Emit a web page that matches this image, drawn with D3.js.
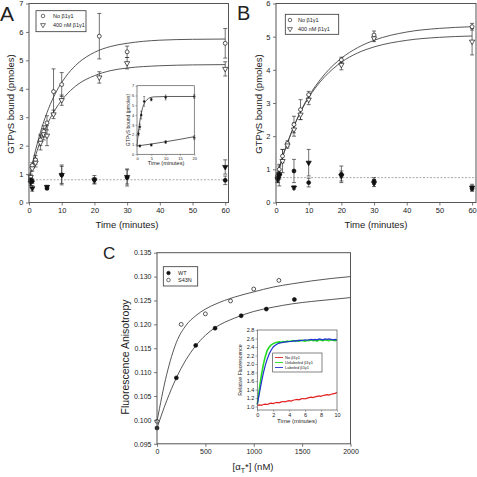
<!DOCTYPE html>
<html><head><meta charset="utf-8">
<script src="https://cdn.jsdelivr.net/npm/d3@7"></script>
<style>
body{margin:0;background:#fff}
svg{display:block}
text{font-family:"Liberation Sans",Arial,Helvetica,sans-serif;fill:#222}
</style>
</head><body>
<svg id="c" width="477" height="477"></svg>
<script>
// ---------- Panel A data ----------
const aOpenT      = [0.5, 1, 2, 3.5, 4.5, 5.5, 7.5, 10, 21.5, 30, 60];
const aNoBg       = [0.85, 1.3, 1.5, 2.2, 2.5, 2.8, 3.9, 4.15, 5.85, 5.3, 5.6];
const aNoBgErr    = [0.1, 0.1, 0.15, 0.2, 0.2, 0.25, 0.8, 0.42, 0.8, 0.2, 0.52];
const a400Bg      = [0.9, 1.2, 1.4, 2.1, 2.4, 2.35, 3.1, 3.6, 4.4, 4.9, 4.7];
const a400BgErr   = [0.1, 0.1, 0.15, 0.25, 0.2, 0.35, 0.15, 0.18, 0.2, 0.2, 0.25];
const aFilledT    = [0.5, 1, 5.5, 10, 20, 30, 60];
const aFilledNo   = [0.8, 0.75, 0.5, 0.97, 0.8, 0.88, 0.78];
const aFilledNoE  = [0.1, 0.08, 0.05, 0.35, 0.15, 0.3, 0.15];
const aFilled400  = [0.7, 0.5, 0.55, 0.97, 0.78, 0.9, 1.25];
const aFilled400E = [0.1, 0.1, 0.05, 0.3, 0.1, 0.25, 0.25];
const aBaseline   = 0.8;
const aCurveT     = [0, 1, 2, 3, 4, 5, 6, 8, 10, 12, 15, 20, 25, 30, 40, 50, 60];
const aCurveNo    = [0.8, 1.35, 1.84, 2.27, 2.66, 3.0, 3.31, 3.82, 4.22, 4.54, 4.9, 5.28, 5.49, 5.6, 5.71, 5.74, 5.75];
const aCurve400   = [0.8, 1.25, 1.65, 2.0, 2.32, 2.6, 2.85, 3.27, 3.6, 3.86, 4.16, 4.46, 4.64, 4.73, 4.81, 4.84, 4.85];
const aXTicks     = [0, 10, 20, 30, 40, 50, 60];
const aYTicks     = [0, 1, 2, 3, 4, 5, 6, 7];
const legendAB    = ["No \u03b21\u03b31", "400 nM \u03b21\u03b31"];

// Panel A inset
const aInT        = [0.5, 1, 1.5, 2.5, 5, 10, 20];
const aInNo       = [2.1, 2.8, 4.0, 5.4, 5.6, 5.8, 5.9];
const aInNoErr    = [0.2, 0.3, 0.4, 0.5, 0.15, 0.25, 0.2];
const aIn400T     = [1, 5, 10, 20];
const aIn400      = [0.85, 0.95, 1.25, 1.7];
const aIn400Err   = [0.1, 0.1, 0.15, 0.2];
const aInCurveT   = [0, 0.5, 1, 1.5, 2, 2.5, 3, 4, 5, 6, 8, 10, 15, 20];
const aInCurveNo  = [0.8, 2.3, 3.4, 4.2, 4.8, 5.15, 5.4, 5.7, 5.82, 5.86, 5.88, 5.9, 5.9, 5.9];
const aInLineT    = [0, 5, 10, 15, 20];
const aInLine400  = [0.85, 1.05, 1.28, 1.53, 1.8];
const aInXTicks   = [0, 5, 10, 15, 20];

// ---------- Panel B data ----------
const bOpenT      = [0.5, 1, 2, 3.5, 5.5, 7.5, 10, 20, 30, 60];
const bNoBg       = [0.8, 1.0, 1.4, 1.78, 2.35, 2.8, 3.25, 4.3, 5.05, 5.3];
const bNoBgErr    = [0.1, 0.15, 0.2, 0.08, 0.25, 0.3, 0.1, 0.08, 0.12, 0.1];
const b400Bg      = [0.7, 0.85, 1.25, 1.72, 2.2, 2.65, 3.1, 4.15, 4.95, 4.85];
const b400BgErr   = [0.1, 0.15, 0.35, 0.08, 0.2, 0.15, 0.15, 0.15, 0.1, 0.4];
const bFilledT    = [0.5, 1, 5.5, 10, 20, 30, 60];
const bFilledNo   = [0.75, 0.85, 0.95, 0.6, 0.85, 0.65, 0.42];
const bFilledNoE  = [0.1, 0.1, 0.35, 0.13, 0.25, 0.1, 0.08];
const bFilled400  = [0.7, 0.8, 0.45, 1.2, 0.8, 0.58, 0.45];
const bFilled400E = [0.1, 0.3, 0.05, 0.4, 0.15, 0.1, 0.1];
const bBaseline   = 0.75;
const bCurveT     = [0, 1, 2, 3, 4, 5, 6, 8, 10, 12, 15, 20, 25, 30, 40, 50, 60];
const bCurveNo    = [0.7, 1.04, 1.36, 1.66, 1.93, 2.18, 2.42, 2.84, 3.2, 3.5, 3.88, 4.35, 4.67, 4.89, 5.14, 5.25, 5.3];
const bCurve400   = [0.7, 1.05, 1.37, 1.66, 1.93, 2.18, 2.41, 2.82, 3.16, 3.45, 3.8, 4.23, 4.51, 4.69, 4.89, 4.98, 5.02];
const bYTicks     = [0, 1, 2, 3, 4, 5, 6];

// ---------- Panel C data ----------
const cWTx        = [0, 200, 400, 600, 870, 1130, 1420];
const cWT         = [0.0983, 0.1088, 0.1156, 0.1192, 0.1218, 0.1232, 0.1252];
const cS43Nx      = [0, 250, 500, 760, 1000, 1260];
const cS43N       = [0.0997, 0.1200, 0.1222, 0.1249, 0.1274, 0.1292];
const cCurveX     = [0, 100, 200, 300, 400, 500, 600, 800, 1000, 1200, 1400, 1600, 1800, 2000];
const cCurveWT    = [0.0983, 0.1040, 0.1088, 0.1126, 0.1155, 0.1177, 0.1193, 0.1213, 0.1227, 0.1236, 0.1243, 0.1248, 0.1252, 0.1256];
const cCurveS43N  = [0.0997, 0.1095, 0.1162, 0.1198, 0.1218, 0.1232, 0.1242, 0.1257, 0.1268, 0.1278, 0.1285, 0.1291, 0.1296, 0.1300];
const cXTicks     = [0, 500, 1000, 1500, 2000];
const cYTicks     = [0.095, 0.100, 0.105, 0.110, 0.115, 0.120, 0.125, 0.130, 0.135];
const cLegend     = ["WT", "S43N"];

// Panel C inset (relative fluorescence traces)
const ciT = [0,0.25,0.5,0.75,1,1.25,1.5,1.75,2,2.25,2.5,2.75,3,3.25,3.5,3.75,4,4.25,4.5,4.75,5,5.25,5.5,5.75,6,6.25,6.5,6.75,7,7.25,7.5,7.75,8,8.25,8.5,8.75,9,9.25,9.5,9.75,10];
const ciNo = [1.03,1.04,1.03,1.05,1.06,1.05,1.07,1.08,1.07,1.09,1.10,1.09,1.11,1.12,1.11,1.13,1.14,1.13,1.15,1.16,1.17,1.16,1.18,1.19,1.18,1.20,1.21,1.22,1.21,1.23,1.24,1.25,1.24,1.26,1.27,1.28,1.27,1.29,1.30,1.31,1.33];
const ciUnlab = [1.05,1.40,1.72,1.98,2.18,2.32,2.40,2.45,2.48,2.50,2.51,2.52,2.51,2.53,2.52,2.54,2.53,2.54,2.55,2.53,2.55,2.54,2.56,2.55,2.54,2.56,2.55,2.57,2.55,2.56,2.54,2.57,2.56,2.55,2.57,2.56,2.55,2.57,2.56,2.55,2.56];
const ciLab = [1.05,1.30,1.55,1.78,1.97,2.12,2.24,2.33,2.40,2.44,2.47,2.49,2.50,2.51,2.52,2.52,2.53,2.53,2.54,2.55,2.54,2.56,2.55,2.56,2.57,2.56,2.57,2.58,2.57,2.58,2.57,2.59,2.58,2.57,2.59,2.58,2.59,2.58,2.57,2.58,2.57];
const ciXTicks = [0, 2, 4, 6, 8, 10];
const ciYTicks = [1.0, 1.2, 1.4, 1.6, 1.8, 2.0, 2.2, 2.4, 2.6, 2.8];
const ciLegend = ["No \u03b21\u03b31", "Unlabeled \u03b21\u03b31", "Labeled \u03b21\u03b31"];
const ciColors = ["#e02020", "#22dd22", "#2030d0"];

// ---------- drawing helpers ----------
const svg = d3.select("#c");
const AXC = "#555";
const LINEC = "#444";

function frame(x, y, sw) {
  const [x0, x1] = x.range(), [y0, y1] = y.range();
  svg.append("rect").attr("x", x0).attr("y", y1).attr("width", x1 - x0).attr("height", y0 - y1)
    .attr("fill", "none").attr("stroke", AXC).attr("stroke-width", sw);
}
function axes(x, y, xt, yt, fx, fy, fs, tl, pad, sw) {
  const gx = svg.append("g").attr("transform", `translate(0,${y.range()[0]})`)
    .call(d3.axisBottom(x).tickValues(xt).tickFormat(fx).tickSize(tl).tickSizeOuter(0).tickPadding(pad));
  const gy = svg.append("g").attr("transform", `translate(${x.range()[0]},0)`)
    .call(d3.axisLeft(y).tickValues(yt).tickFormat(fy).tickSize(tl).tickSizeOuter(0).tickPadding(pad));
  [gx, gy].forEach(g => {
    g.select(".domain").remove();
    g.selectAll("line").attr("stroke", AXC).attr("stroke-width", sw);
    g.selectAll("text").attr("font-size", fs).attr("fill", "#222")
      .attr("font-family", '"Liberation Sans",Arial,sans-serif');
  });
}
function curve(x, y, xs, ys, color, sw, c) {
  svg.append("path").datum(xs.map((d, i) => [d, ys[i]]))
    .attr("fill", "none").attr("stroke", color).attr("stroke-width", sw)
    .attr("d", d3.line().x(d => x(d[0])).y(d => y(d[1])).curve(c || d3.curveMonotoneX));
}
function errbars(x, y, xs, ys, es, cap, sw) {
  const g = svg.append("g").attr("stroke", "#333").attr("stroke-width", sw);
  xs.forEach((t, i) => {
    const cx = x(t), lo = y(ys[i] - es[i]), hi = y(ys[i] + es[i]);
    g.append("line").attr("x1", cx).attr("x2", cx).attr("y1", lo).attr("y2", hi);
    g.append("line").attr("x1", cx - cap).attr("x2", cx + cap).attr("y1", lo).attr("y2", lo);
    g.append("line").attr("x1", cx - cap).attr("x2", cx + cap).attr("y1", hi).attr("y2", hi);
  });
}
function marks(x, y, xs, ys, type, filled, size, sw) {
  const sym = d3.symbol().type(type === "tri" ? d3.symbolTriangle : d3.symbolCircle).size(size);
  svg.append("g").selectAll("path").data(xs.map((d, i) => [d, ys[i]])).join("path")
    .attr("d", sym)
    .attr("transform", d => `translate(${x(d[0])},${y(d[1])})` + (type === "tri" ? " rotate(180)" : ""))
    .attr("fill", filled ? "#111" : "#fff").attr("stroke", "#111").attr("stroke-width", sw);
}
function hline(x, y, v) {
  svg.append("line").attr("x1", x.range()[0]).attr("x2", x.range()[1])
    .attr("y1", y(v)).attr("y2", y(v)).attr("stroke", "#aaa").attr("stroke-width", 1)
    .attr("stroke-dasharray", "2,1.5");
}
function title(txt, xp, yp, fs, rot) {
  const t = svg.append("text").attr("font-size", fs).attr("text-anchor", "middle")
    .attr("transform", `translate(${xp},${yp})` + (rot ? " rotate(-90)" : ""));
  return t.text(txt);
}
function symLegend(box, rows, labels, types, filled, fs) {
  svg.append("rect").attr("x", box[0]).attr("y", box[1]).attr("width", box[2]).attr("height", box[3])
    .attr("fill", "#fff").attr("stroke", "#333").attr("stroke-width", 0.8);
  labels.forEach((l, i) => {
    const sym = d3.symbol().type(types[i] === "tri" ? d3.symbolTriangle : d3.symbolCircle).size(10);
    svg.append("path").attr("d", sym)
      .attr("transform", `translate(${rows.sx},${rows.y[i]})` + (types[i] === "tri" ? " rotate(180)" : ""))
      .attr("fill", filled[i] ? "#111" : "#fff").attr("stroke", "#111").attr("stroke-width", 0.6);
    svg.append("text").attr("x", rows.tx).attr("y", rows.y[i] + fs * 0.35).attr("font-size", fs).text(l);
  });
}

// ---------- Panel A ----------
{
  const x = d3.scaleLinear().domain([0, 61]).range([29, 228.5]);
  const y = d3.scaleLinear().domain([0, 7]).range([202.5, 3.5]);
  hline(x, y, aBaseline);
  curve(x, y, aCurveT, aCurveNo, LINEC, 0.9);
  curve(x, y, aCurveT, aCurve400, LINEC, 0.9);
  errbars(x, y, aOpenT, aNoBg, aNoBgErr, 2, 0.7);
  errbars(x, y, aOpenT, a400Bg, a400BgErr, 2, 0.7);
  errbars(x, y, aFilledT, aFilledNo, aFilledNoE, 2, 0.7);
  errbars(x, y, aFilledT, aFilled400, aFilled400E, 2, 0.7);
  marks(x, y, aOpenT, aNoBg, "circle", false, 12, 0.7);
  marks(x, y, aOpenT, a400Bg, "tri", false, 12, 0.7);
  marks(x, y, aFilledT, aFilledNo, "circle", true, 12, 0.7);
  marks(x, y, aFilledT, aFilled400, "tri", true, 12, 0.7);
  frame(x, y, 1);
  axes(x, y, aXTicks, aYTicks, d3.format("d"), d3.format("d"), 7.5, 3, 2.5, 0.8);
  symLegend([36, 10.7, 50, 21], {sx: 43, tx: 53, y: [16, 25]}, legendAB, ["circle", "tri"], [false, false], 5.5);
  title("GTP\u03b3S bound (pmoles)", 14, 104, 9.5, true);
  title("Time (minutes)", 127, 228, 9.5, false);
  svg.append("text").attr("x", 0).attr("y", 21).attr("font-size", 21).text("A");

  // inset
  const xi = d3.scaleLinear().domain([0, 20]).range([137, 194.3]);
  const yi = d3.scaleLinear().domain([0, 7]).range([154.3, 85.7]);
  svg.append("rect").attr("x", 137).attr("y", 85.7).attr("width", 57.3).attr("height", 68.6).attr("fill", "#fff");
  curve(xi, yi, aInCurveT, aInCurveNo, "#333", 0.8);
  curve(xi, yi, aInLineT, aInLine400, "#333", 0.8);
  errbars(xi, yi, aInT, aInNo, aInNoErr, 1, 0.5);
  errbars(xi, yi, aIn400T, aIn400, aIn400Err, 1, 0.5);
  marks(xi, yi, aInT, aInNo, "circle", true, 3, 0.4);
  marks(xi, yi, aIn400T, aIn400, "circle", true, 3, 0.4);
  frame(xi, yi, 0.7);
  axes(xi, yi, aInXTicks, aYTicks, d3.format("d"), d3.format("d"), 4, 1.5, 1.2, 0.5);
  title("GTP\u03b3S bound (pmoles)", 130, 120, 5, true);
  title("Time (minutes)", 166, 165, 5.5, false);
}

// ---------- Panel B ----------
{
  const x = d3.scaleLinear().domain([0, 61.2]).range([276, 476]);
  const y = d3.scaleLinear().domain([0, 6]).range([202.5, 3.5]);
  hline(x, y, bBaseline);
  curve(x, y, bCurveT, bCurveNo, LINEC, 0.9);
  curve(x, y, bCurveT, bCurve400, LINEC, 0.9);
  errbars(x, y, bOpenT, bNoBg, bNoBgErr, 2, 0.7);
  errbars(x, y, bOpenT, b400Bg, b400BgErr, 2, 0.7);
  errbars(x, y, bFilledT, bFilledNo, bFilledNoE, 2, 0.7);
  errbars(x, y, bFilledT, bFilled400, bFilled400E, 2, 0.7);
  marks(x, y, bOpenT, bNoBg, "circle", false, 12, 0.7);
  marks(x, y, bOpenT, b400Bg, "tri", false, 12, 0.7);
  marks(x, y, bFilledT, bFilledNo, "circle", true, 12, 0.7);
  marks(x, y, bFilledT, bFilled400, "tri", true, 12, 0.7);
  frame(x, y, 1);
  axes(x, y, aXTicks, bYTicks, d3.format("d"), d3.format("d"), 7.5, 3, 2.5, 0.8);
  symLegend([285.3, 14.3, 53.4, 20], {sx: 290, tx: 298, y: [20, 29]}, legendAB, ["circle", "tri"], [false, false], 5.5);
  title("GTP\u03b3S bound (pmoles)", 262, 104, 9.5, true);
  title("Time (minutes)", 376, 228, 9.5, false);
  svg.append("text").attr("x", 237).attr("y", 20).attr("font-size", 20).text("B");
}

// ---------- Panel C ----------
{
  const x = d3.scaleLinear().domain([0, 2000]).range([157, 350.5]);
  const y = d3.scaleLinear().domain([0.095, 0.135]).range([443.8, 252.7]);
  curve(x, y, cCurveX, cCurveS43N, LINEC, 0.9);
  curve(x, y, cCurveX, cCurveWT, LINEC, 0.9);
  marks(x, y, cWTx, cWT, "circle", true, 12, 0.7);
  marks(x, y, cS43Nx, cS43N, "circle", false, 12, 0.7);
  frame(x, y, 1);
  axes(x, y, cXTicks, cYTicks, d3.format("d"), d3.format(".3f"), 7, 3, 2.5, 0.8);
  symLegend([163.3, 266.7, 34.4, 19.3], {sx: 168.5, tx: 178, y: [273, 280]}, cLegend, ["circle", "circle"], [true, false], 5.5);
  title("Fluorescence Anisotropy", 129, 357, 10.5, true);
  const t = svg.append("text").attr("x", 253).attr("y", 470).attr("font-size", 9.5).attr("text-anchor", "middle");
  t.append("tspan").text("[\u03b1");
  t.append("tspan").attr("font-size", 7).attr("dy", 2.5).text("T");
  t.append("tspan").attr("dy", -2.5).text("*] (nM)");
  svg.append("text").attr("x", 103).attr("y", 259).attr("font-size", 17).text("C");

  // inset
  const xi = d3.scaleLinear().domain([0, 10]).range([257.3, 337]);
  const yi = d3.scaleLinear().domain([0.92, 2.8]).range([410, 330]);
  svg.append("rect").attr("x", 257.3).attr("y", 330).attr("width", 79.7).attr("height", 80).attr("fill", "#fff");
  curve(xi, yi, ciT, ciNo, ciColors[0], 1.2, d3.curveLinear);
  curve(xi, yi, ciT, ciUnlab, ciColors[1], 1.6, d3.curveLinear);
  curve(xi, yi, ciT, ciLab, ciColors[2], 1.2, d3.curveLinear);
  frame(xi, yi, 0.7);
  axes(xi, yi, ciXTicks, ciYTicks, d3.format("d"), d3.format(".1f"), 5.5, 1.8, 1.2, 0.5);
  title("Relative Fluorescence", 242, 370, 5.2, true);
  title("Time (minutes)", 297, 423, 6, false);
  svg.append("rect").attr("x", 272.7).attr("y", 353).attr("width", 49.3).attr("height", 19)
    .attr("fill", "#fff").attr("stroke", "#333").attr("stroke-width", 0.6);
  ciLegend.forEach((l, i) => {
    const yy = 357.5 + i * 5;
    svg.append("line").attr("x1", 275).attr("x2", 283).attr("y1", yy).attr("y2", yy)
      .attr("stroke", ciColors[i]).attr("stroke-width", 0.9);
    svg.append("text").attr("x", 285).attr("y", yy + 1.4).attr("font-size", 4).text(l);
  });
}
</script>
</body></html>
